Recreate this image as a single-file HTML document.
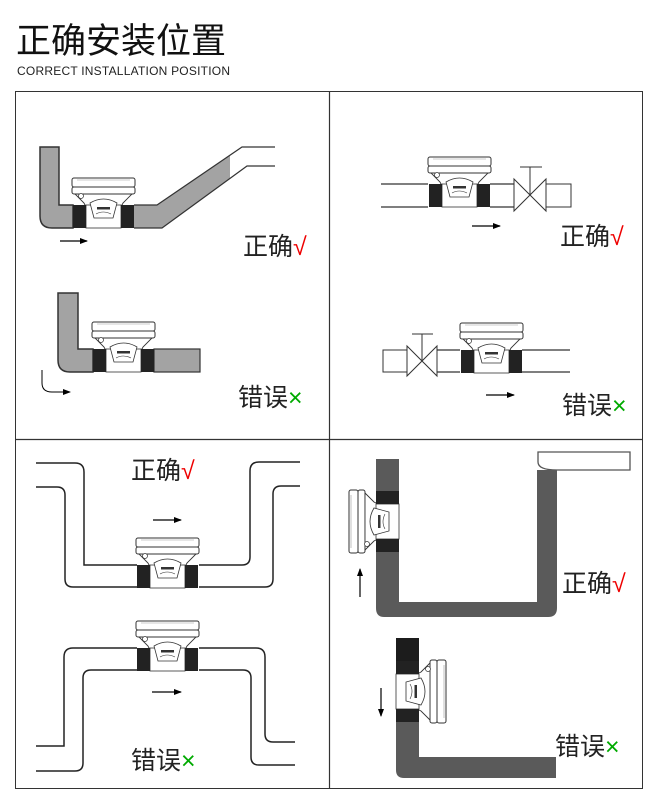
<!DOCTYPE html>
<html><head><meta charset="utf-8"><style>
html,body{margin:0;padding:0;background:#fff;}
svg{display:block;}
.t{font-family:"Liberation Sans","Noto Sans CJK SC",sans-serif;}
</style></head><body>
<svg width="657" height="800" viewBox="0 0 657 800" xmlns="http://www.w3.org/2000/svg">
<defs>
<g id="m">
 <rect x="-1" y="-27" width="63" height="9" rx="2" fill="#fff" stroke="#333" stroke-width="1"/>
 <line x1="4" y1="-25" x2="57" y2="-25" stroke="#999" stroke-width="0.6"/>
 <rect x="-1" y="-18" width="63" height="7" rx="2" fill="#fff" stroke="#333" stroke-width="1"/>
 <path d="M2,-11 H59 L50,-2 L48,2 H13 L11,-2 Z" fill="#fff" stroke="#333" stroke-width="0.9"/>
 <circle cx="8" cy="-9" r="2.5" fill="#fff" stroke="#333" stroke-width="0.7"/>
 <rect x="13" y="0" width="35" height="23" fill="#fff" stroke="#333" stroke-width="0.8"/>
 <path d="M17,-2 Q30.5,-10 44,-2 L40,13 H21 Z" fill="#fff" stroke="#333" stroke-width="0.8"/>
 <rect x="24" y="2" width="13" height="2.5" fill="#333"/>
 <path d="M23,9 Q30,5 38,9" fill="none" stroke="#333" stroke-width="0.6"/>
 <rect x="0" y="0" width="13" height="23" fill="#222"/>
 <rect x="48" y="0" width="13" height="23" fill="#222"/>
</g>
<marker id="ah" markerWidth="8" markerHeight="6" refX="7" refY="3" orient="auto" markerUnits="userSpaceOnUse"><path d="M0,0 L8,3 L0,6 Z" fill="#000"/></marker>
</defs>

<text x="16" y="53" class="t" font-size="35" fill="#111">正确安装位置</text>
<text x="17" y="75" class="t" font-size="12" fill="#222" textLength="213">CORRECT INSTALLATION POSITION</text>

<rect x="15.5" y="91.5" width="627" height="697" fill="none" stroke="#333" stroke-width="1"/>
<line x1="329.5" y1="91" x2="329.5" y2="788" stroke="#333" stroke-width="1.2"/>
<line x1="15" y1="439.5" x2="643" y2="439.5" stroke="#333" stroke-width="1.2"/>

<!-- Q1 top -->
<path d="M40,147 H59 V205 H73 V228 H52 Q40,228 40,216 Z" fill="#a3a3a3" stroke="#333" stroke-width="1.5"/>
<path d="M134,205 H157 L230,155 V178 L162,228 H134 Z" fill="#a3a3a3"/>
<path d="M134,205 H157 L242,147 H275 M134,228 H162 L247,166 H275" fill="none" stroke="#333" stroke-width="1.2"/>
<use href="#m" x="73" y="205"/>
<line x1="60" y1="241" x2="87" y2="241" stroke="#000" stroke-width="1.2" marker-end="url(#ah)"/>
<text x="243" y="255" class="t" font-size="25" fill="#222">正确<tspan fill="#e00">√</tspan></text>

<!-- Q1 bottom -->
<path d="M58,293 H78 V349 H93 V372 H70 Q58,372 58,360 Z" fill="#a3a3a3" stroke="#333" stroke-width="1.5"/>
<rect x="154" y="349" width="46" height="23" fill="#a3a3a3" stroke="#333" stroke-width="1.2"/>
<use href="#m" x="93" y="349"/>
<path d="M42,370 V383 Q42,392 52,392 H70" fill="none" stroke="#000" stroke-width="1" marker-end="url(#ah)"/>
<text x="238" y="406" class="t" font-size="25" fill="#222">错误<tspan fill="#0a0">×</tspan></text>

<!-- Q2 top -->
<path d="M381,184 H428 M381,207 H428 M490,184 H514 M490,207 H514" stroke="#333" stroke-width="1.2"/>
<use href="#m" x="429" y="184"/>
<path d="M514,179 L546,211 V179 L514,211 Z" fill="#fff" stroke="#333" stroke-width="1"/>
<path d="M530,195 V167 M520,167 H542" stroke="#333" stroke-width="1"/>
<rect x="546" y="184" width="25" height="23" fill="#fff" stroke="#333" stroke-width="1"/>
<line x1="472" y1="226" x2="500" y2="226" stroke="#000" stroke-width="1.2" marker-end="url(#ah)"/>
<text x="560" y="245" class="t" font-size="25" fill="#222">正确<tspan fill="#e00">√</tspan></text>

<!-- Q2 bottom -->
<rect x="383" y="350" width="24" height="22" fill="#fff" stroke="#333" stroke-width="1"/>
<path d="M407,346 L437,376 V346 L407,376 Z" fill="#fff" stroke="#333" stroke-width="1"/>
<path d="M422,361 V334 M412,334 H433" stroke="#333" stroke-width="1"/>
<path d="M437,350 H460 M437,372 H460 M522,350 H570 M522,372 H570" stroke="#333" stroke-width="1.2"/>
<use href="#m" x="461" y="350"/>
<line x1="486" y1="395" x2="514" y2="395" stroke="#000" stroke-width="1.2" marker-end="url(#ah)"/>
<text x="562" y="414" class="t" font-size="25" fill="#222">错误<tspan fill="#0a0">×</tspan></text>

<!-- Q3 top -->
<path d="M36,463 H75 Q84,463 84,472 V565 H137 M36,487 H57 Q65,487 65,495 V579 Q65,587 73,587 H137" fill="none" stroke="#222" stroke-width="1.5"/>
<path d="M199,565 H242 Q250,565 250,557 V471 Q250,462 259,462 H300 M199,587 H265 Q273,587 273,579 V494 Q273,486 281,486 H300" fill="none" stroke="#222" stroke-width="1.5"/>
<use href="#m" x="137" y="565"/>
<line x1="153" y1="520" x2="181" y2="520" stroke="#000" stroke-width="1.2" marker-end="url(#ah)"/>
<text x="131" y="479" class="t" font-size="25" fill="#222">正确<tspan fill="#e00">√</tspan></text>

<!-- Q3 bottom -->
<path d="M137,648 H73 Q64,648 64,657 V746 H36 M137,670 H91 Q83,670 83,678 V763 Q83,771 75,771 H36" fill="none" stroke="#222" stroke-width="1.5"/>
<path d="M199,648 H256 Q265,648 265,657 V734 Q265,742 273,742 H295 M199,670 H243 Q251,670 251,678 V757 Q251,765 259,765 H295" fill="none" stroke="#222" stroke-width="1.5"/>
<use href="#m" x="137" y="648"/>
<line x1="152" y1="692" x2="181" y2="692" stroke="#000" stroke-width="1.2" marker-end="url(#ah)"/>
<text x="131" y="769" class="t" font-size="25" fill="#222">错误<tspan fill="#0a0">×</tspan></text>

<!-- Q4 top -->
<path d="M538,452 H630 V470 H557 Q538,470 538,462 Z" fill="#fff" stroke="#555" stroke-width="1.3"/>
<path d="M376,459 H399 V602 H537 V470 H557 V608 Q557,617 548,617 H384 Q376,617 376,608 Z" fill="#5a5a5a"/>
<use href="#m" transform="translate(376,552) rotate(-90)"/>
<line x1="360" y1="597" x2="360" y2="569" stroke="#000" stroke-width="1.2" marker-end="url(#ah)"/>
<text x="562" y="592" class="t" font-size="25" fill="#222">正确<tspan fill="#e00">√</tspan></text>

<!-- Q4 bottom -->
<path d="M396,638 H419 V757 H556 V778 H404 Q396,778 396,770 Z" fill="#5a5a5a"/>
<rect x="396" y="638" width="23" height="24" fill="#1c1c1c"/>
<use href="#m" transform="translate(419,661) rotate(90)"/>
<line x1="381" y1="688" x2="381" y2="716" stroke="#000" stroke-width="1.2" marker-end="url(#ah)"/>
<text x="555" y="755" class="t" font-size="25" fill="#222">错误<tspan fill="#0a0">×</tspan></text>
</svg>
</body></html>
